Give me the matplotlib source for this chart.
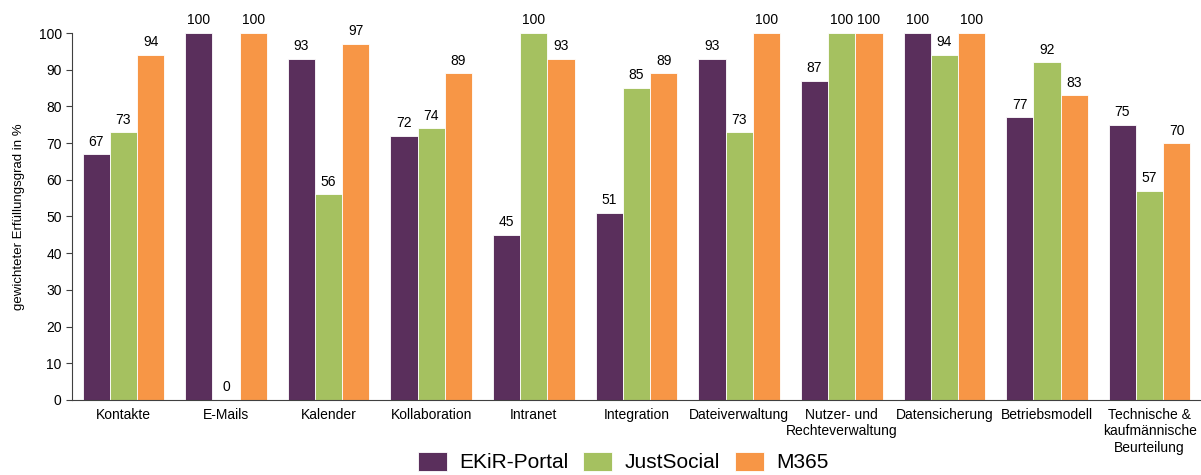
import matplotlib.pyplot as plt
import numpy as np

plt.rcParams['font.family'] = ['Liberation Sans', 'DejaVu Sans']

categories = [
    "Kontakte", "E-Mails", "Kalender", "Kollaboration", "Intranet",
    "Integration", "Dateiverwaltung", "Nutzer- und\nRechteverwaltung",
    "Datensicherung", "Betriebsmodell",
    "Technische &\nkaufmännische\nBeurteilung",
]
ekir = [67, 100, 93, 72, 45, 51, 93, 87, 100, 77, 75]
justsocial = [73, 0, 56, 74, 100, 85, 73, 100, 94, 92, 57]
m365 = [94, 100, 97, 89, 93, 89, 100, 100, 100, 83, 70]

series = [("EKiR-Portal", ekir, "#5a2f5c"),
          ("JustSocial", justsocial, "#a5c160"),
          ("M365", m365, "#f79646")]

fig = plt.figure(figsize=(12.01, 4.75), dpi=100)
ax = fig.add_axes([0.06, 0.158, 0.94, 0.7725])

x = np.arange(len(categories))
width = 0.265

for i, (name, vals, color) in enumerate(series):
    bars = ax.bar(x + (i - 1) * width, vals, width, label=name, color=color,
                  edgecolor='white', linewidth=0.6)
    for b, v in zip(bars, vals):
        ax.annotate(str(v), (b.get_x() + b.get_width() / 2, v),
                    xytext=(0, 4), textcoords='offset points',
                    ha='center', va='bottom', fontsize=10)

ax.set_xlim(-0.5, len(categories) - 0.5)
ax.set_ylim(0, 100)
ax.set_yticks(range(0, 101, 10))
ax.set_xticks(x)
ax.set_xticklabels(categories, fontsize=10)
ax.tick_params(axis='x', length=0, pad=6)
ax.tick_params(axis='y', labelsize=10, length=4, color='#404040')
ax.spines['top'].set_visible(False)
ax.spines['right'].set_visible(False)
ax.spines['left'].set_color('#404040')
ax.spines['bottom'].set_color('#404040')
ax.set_ylabel('gewichteter Erfüllungsgrad in %', fontsize=9.5, labelpad=10)

fig.legend(loc='center', bbox_to_anchor=(0.519, 0.027), ncol=3, frameon=False,
           fontsize=15, handlelength=1.4, handleheight=1.0, columnspacing=0.7,
           handletextpad=0.6)

fig.savefig('out.png', dpi=100)
